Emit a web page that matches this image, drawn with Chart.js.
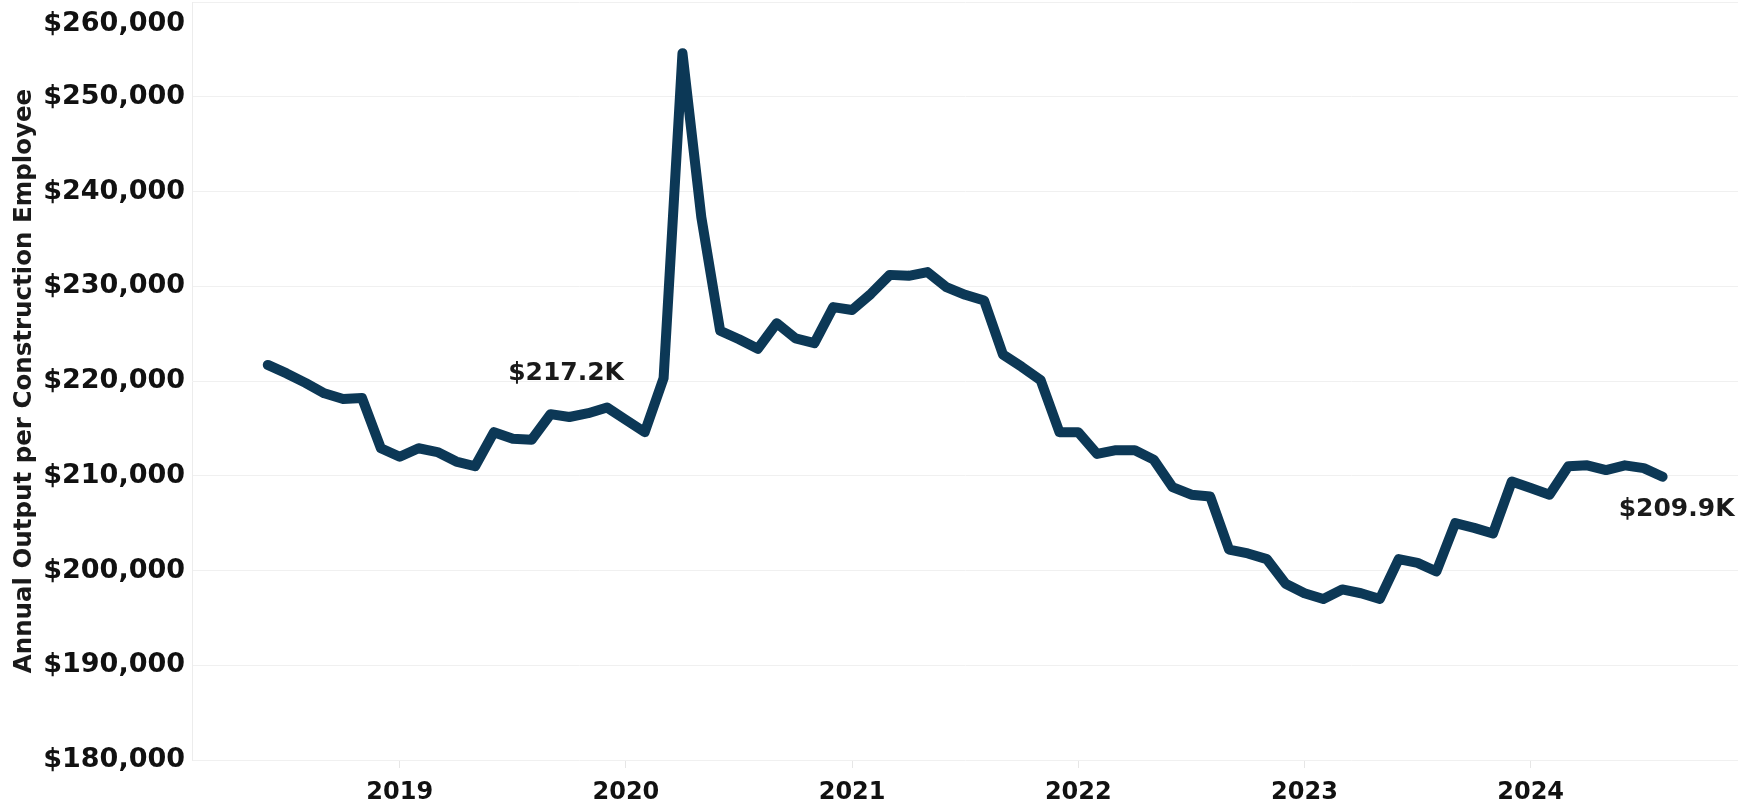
<!DOCTYPE html>
<html>
<head>
<meta charset="utf-8">
<script src="https://cdn.jsdelivr.net/npm/chart.js@4.4.1/dist/chart.umd.min.js"></script>
<style>
  html, body { margin: 0; padding: 0; background: #fff; }
</style>
</head>
<body>
<canvas id="outputChart" width="1752" height="805"></canvas>
<script>
// Output per construction employee, monthly (Jun 2018 - Aug 2024)
const months = [
  '2018-06', '2018-07', '2018-08', '2018-09', '2018-10', '2018-11', '2018-12',
  '2019-01', '2019-02', '2019-03', '2019-04', '2019-05', '2019-06', '2019-07', '2019-08', '2019-09', '2019-10', '2019-11', '2019-12',
  '2020-01', '2020-02', '2020-03', '2020-04', '2020-05', '2020-06', '2020-07', '2020-08', '2020-09', '2020-10', '2020-11', '2020-12',
  '2021-01', '2021-02', '2021-03', '2021-04', '2021-05', '2021-06', '2021-07', '2021-08', '2021-09', '2021-10', '2021-11', '2021-12',
  '2022-01', '2022-02', '2022-03', '2022-04', '2022-05', '2022-06', '2022-07', '2022-08', '2022-09', '2022-10', '2022-11', '2022-12',
  '2023-01', '2023-02', '2023-03', '2023-04', '2023-05', '2023-06', '2023-07', '2023-08', '2023-09', '2023-10', '2023-11', '2023-12',
  '2024-01', '2024-02', '2024-03', '2024-04', '2024-05', '2024-06', '2024-07', '2024-08'
];

// values in thousands of dollars
const outputK = [
  221.7, 220.8, 219.8, 218.7, 218.1, 218.2, 212.9,
  212.0, 212.9, 212.5, 211.5, 211.0, 214.6, 213.9, 213.8, 216.5, 216.2, 216.6, 217.2,
  215.9, 214.6, 220.3, 254.6, 237.3, 225.3, 224.4, 223.4, 226.1, 224.5, 224.0, 227.8,
  227.5, 229.2, 231.2, 231.1, 231.5, 229.9, 229.1, 228.5, 222.8, 221.5, 220.1, 214.6,
  214.6, 212.3, 212.7, 212.7, 211.7, 208.8, 208.0, 207.8, 202.2, 201.8, 201.2, 198.6,
  197.6, 197.0, 198.0, 197.6, 197.0, 201.2, 200.8, 199.9, 205.0, 204.5, 203.9, 209.4,
  208.7, 208.0, 211.0, 211.1, 210.6, 211.1, 210.8, 209.9
];

const yearLabels = ['2019', '2020', '2021', '2022', '2023', '2024'];
const yTicks = [180000, 190000, 200000, 210000, 220000, 230000, 240000, 250000, 260000];

const callouts = [
  { month: '2019-12', text: '$217.2K' },
  { month: '2024-08', text: '$209.9K' }
];

const FONT = "'DejaVu Sans', sans-serif";
const LINE_COLOR = '#0c3856';

function monthIndex(m) {
  const [y, mo] = m.split('-').map(Number);
  return (y - 2018) * 12 + (mo - 1);
}

const points = months.map((m, i) => ({ x: monthIndex(m), y: outputK[i] * 1000 }));

// value labels next to two points
const calloutPlugin = {
  id: 'callouts',
  afterDatasetsDraw(chart) {
    const { ctx } = chart;
    const meta = chart.getDatasetMeta(0);
    ctx.save();
    ctx.font = 'bold 25px ' + FONT;
    ctx.fillStyle = '#1a1a1a';
    ctx.textAlign = 'center';
    ctx.textBaseline = 'middle';
    callouts.forEach((c, k) => {
      const pt = meta.data[months.indexOf(c.month)];
      if (k === 0) ctx.fillText(c.text, pt.x - 41, pt.y - 34);
      else ctx.fillText(c.text, pt.x + 14, pt.y + 33);
    });
    ctx.restore();
  }
};

new Chart(document.getElementById('outputChart').getContext('2d'), {
  type: 'line',
  data: {
    datasets: [{
      data: points,
      borderColor: LINE_COLOR,
      borderWidth: 10,
      borderJoinStyle: 'round',
      borderCapStyle: 'round',
      pointRadius: 0,
      tension: 0,
      fill: false
    }]
  },
  options: {
    responsive: false,
    animation: false,
    devicePixelRatio: 1,
    layout: { padding: { top: 2, right: 14, left: 0, bottom: 0 } },
    plugins: {
      legend: { display: false },
      tooltip: { enabled: false }
    },
    scales: {
      x: {
        type: 'linear',
        min: 0.98,
        max: 83.0,
        afterBuildTicks(scale) {
          scale.ticks = yearLabels.map(y => ({ value: monthIndex(y + '-01') }));
        },
        afterFit(scale) { scale.height = 45; },
        ticks: {
          autoSkip: false,
          maxRotation: 0,
          padding: 13,
          color: '#111',
          font: { family: FONT, size: 24, weight: 'bold', lineHeight: 1 },
          callback: (v) => String(2018 + v / 12)
        },
        grid: { drawOnChartArea: false, tickLength: 8, color: '#e6e6e6' },
        border: { display: false }
      },
      y: {
        min: 180000,
        max: 260000,
        afterBuildTicks(scale) {
          scale.ticks = yTicks.map(v => ({ value: v }));
        },
        afterFit(scale) {
          scale.width = 192;
          scale.paddingTop = 0;
          scale.paddingBottom = 0;
        },
        ticks: {
          padding: 7,
          color: '#111',
          font: { family: FONT, size: 27, weight: 'bold', lineHeight: 0.8 },
          callback: (v) => {
            const s = '$' + v.toLocaleString('en-US');
            return v === 260000 ? ['', '', s] : s;
          }
        },
        grid: { color: '#f0f0f0', drawTicks: false },
        border: { display: true, color: '#ececec' },
        title: {
          display: true,
          text: 'Annual Output per Construction Employee',
          color: '#1a1a1a',
          padding: { top: 10, bottom: 0 },
          font: { family: FONT, size: 24.5, weight: 'bold' }
        }
      }
    }
  },
  plugins: [calloutPlugin]
});
</script>
</body>
</html>
